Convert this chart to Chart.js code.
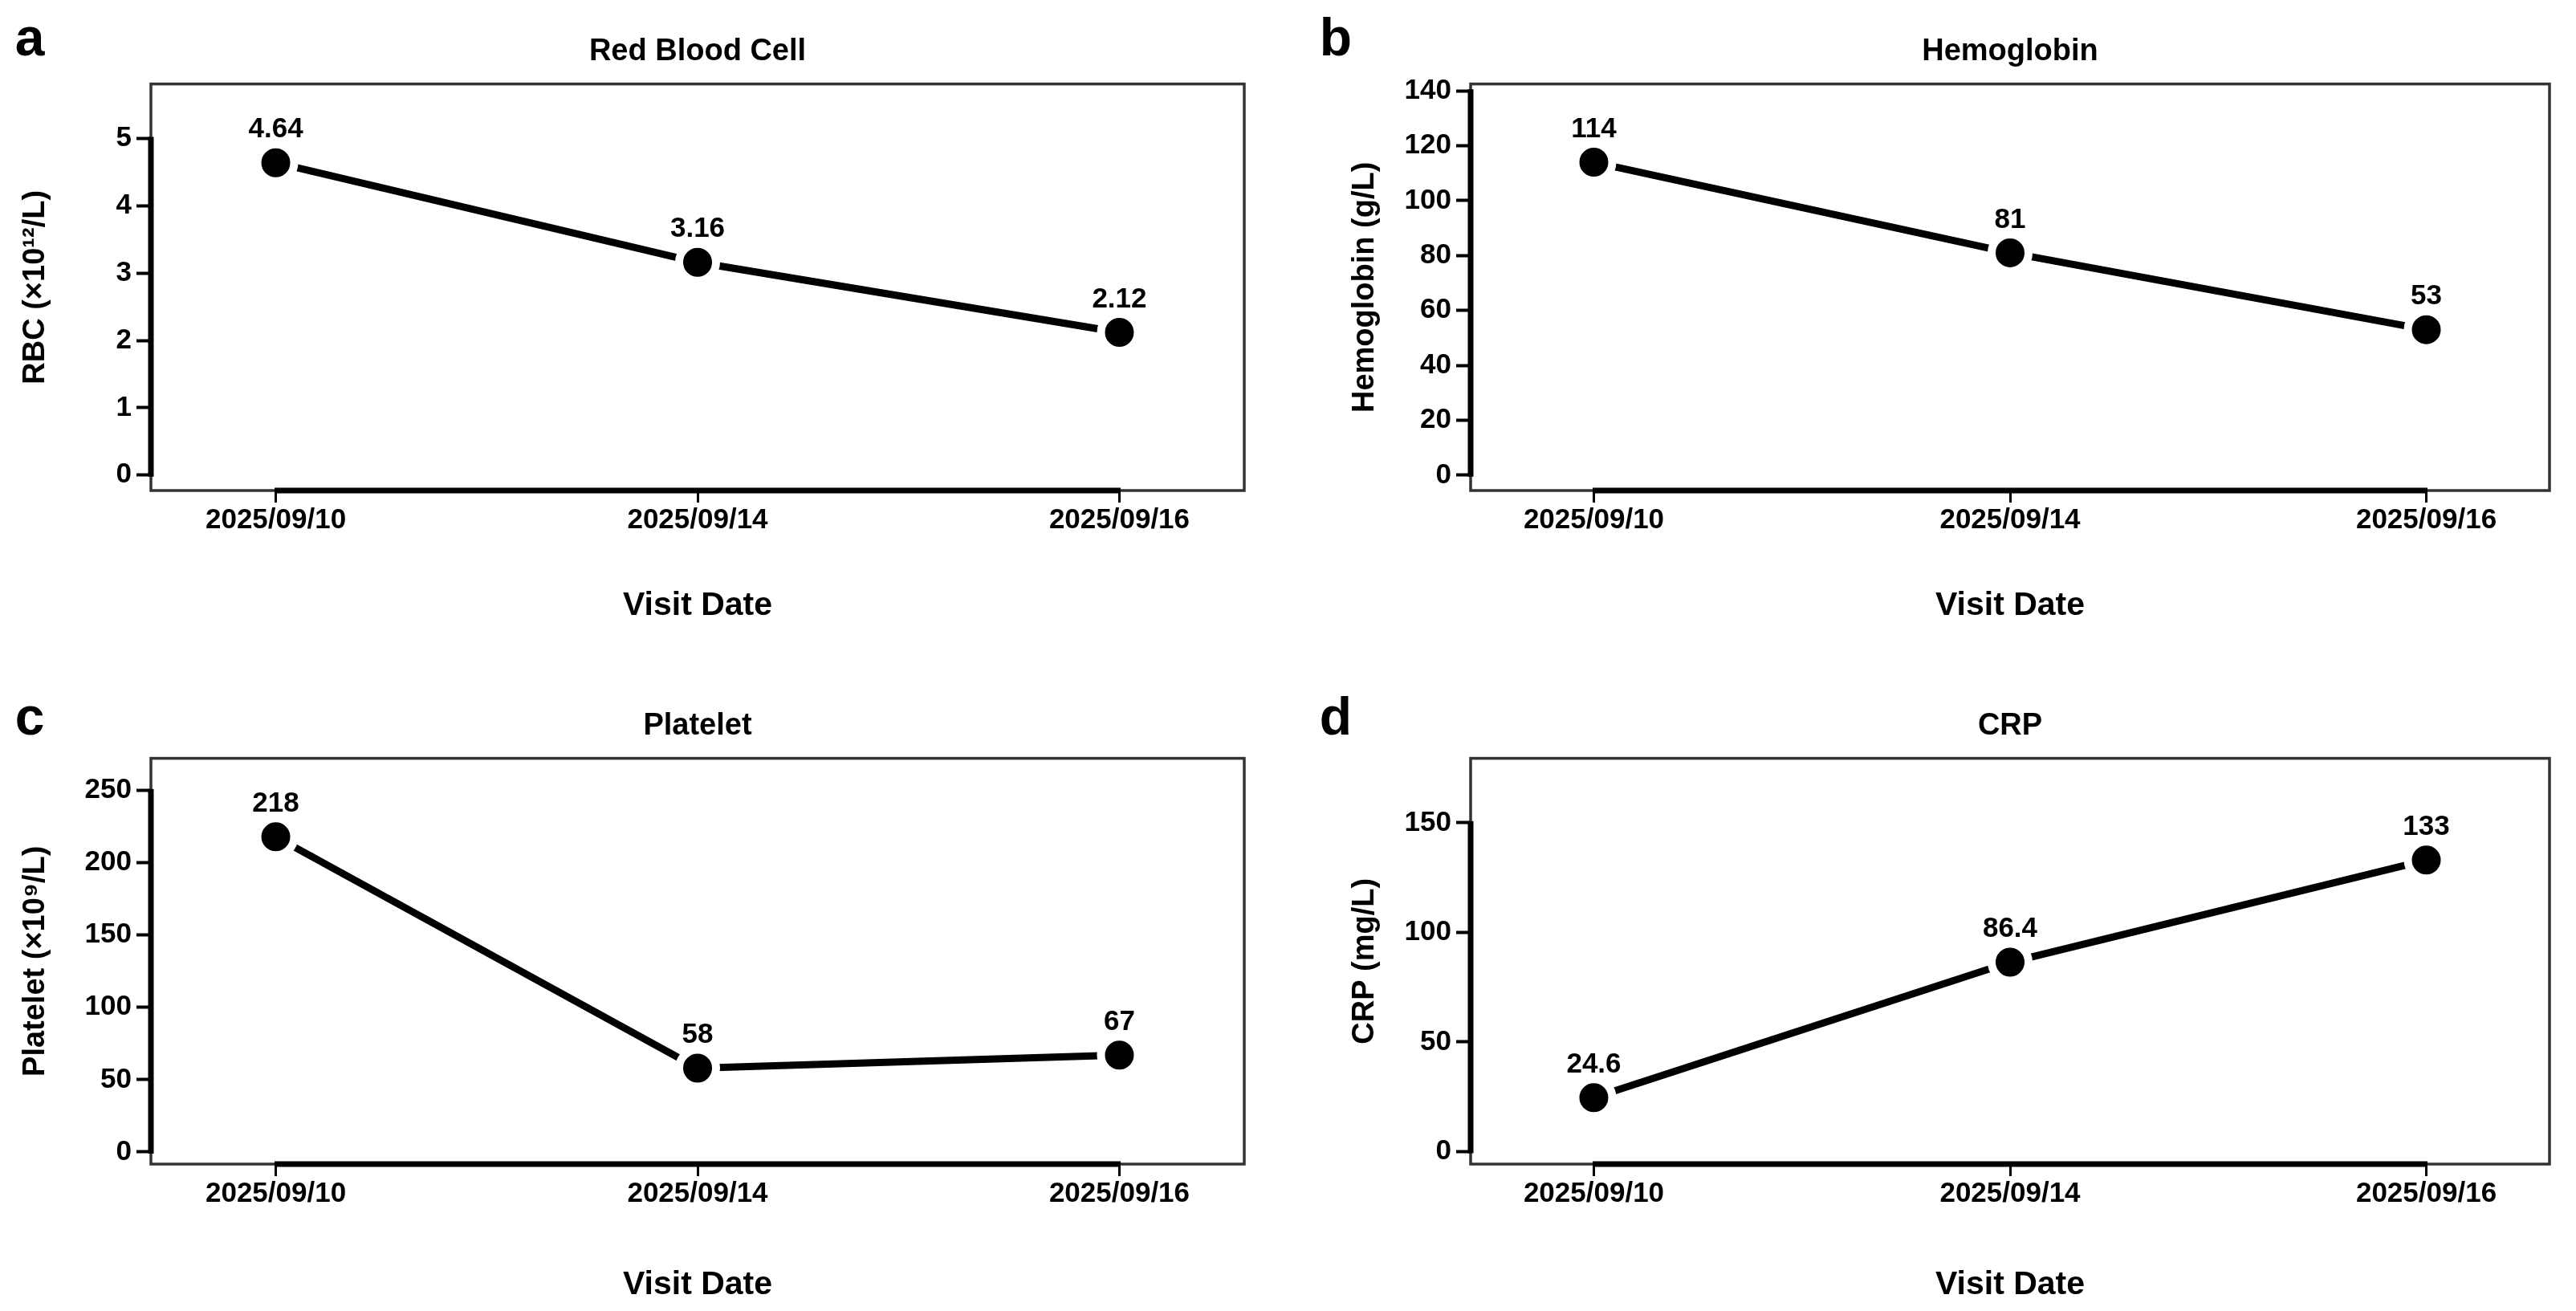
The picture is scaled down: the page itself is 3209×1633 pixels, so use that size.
<!DOCTYPE html>
<html>
<head>
<meta charset="utf-8">
<script src="https://cdn.jsdelivr.net/npm/chart.js@4.4.1/dist/chart.umd.min.js"></script>
<style>
  body { margin: 0; background: #fff; width: 3209px; height: 1633px; position: relative; overflow: hidden; }
  canvas { position: absolute; }
  .tag { position: absolute; font: bold 66px "Liberation Sans", Arial, sans-serif; color: #000; transform: translate(-50%, -50%); line-height: 1; }
</style>
</head>
<body>
<div class="tag" style="left:37px; top:46px;">a</div>
<div class="tag" style="left:1664px; top:46px;">b</div>
<div class="tag" style="left:37px; top:892px;">c</div>
<div class="tag" style="left:1664px; top:892px;">d</div>

<canvas id="chartA" width="1604" height="816" style="left:0; top:0;"></canvas>
<canvas id="chartB" width="1605" height="816" style="left:1604px; top:0;"></canvas>
<canvas id="chartC" width="1604" height="817" style="left:0; top:816px;"></canvas>
<canvas id="chartD" width="1605" height="817" style="left:1604px; top:816px;"></canvas>

<script>
// data
const visitDates = ["2025/09/10", "2025/09/14", "2025/09/16"];
const rbcValues = [4.64, 3.16, 2.12];
const hgbValues = [114, 81, 53];
const pltValues = [218, 58, 67];
const crpValues = [24.6, 86.4, 133];

const rbcTicks = [0, 1, 2, 3, 4, 5];
const hgbTicks = [0, 20, 40, 60, 80, 100, 120, 140];
const pltTicks = [0, 50, 100, 150, 200, 250];
const crpTicks = [0, 50, 100, 150];

Chart.defaults.font.family = '"Liberation Sans", Arial, sans-serif';
Chart.defaults.font.weight = 'bold';
Chart.defaults.color = '#000';

// box around the plot + thick axis segments between first and last tick
const framePlugin = {
  id: 'frame',
  beforeDatasetsDraw(chart) {
    const { ctx, chartArea: a, scales } = chart;
    const yt = chart.options.scales.y.myTicks;
    ctx.save();
    ctx.strokeStyle = '#333';
    ctx.lineWidth = 3.5;
    ctx.strokeRect(a.left, a.top, a.right - a.left, a.bottom - a.top);
    ctx.strokeStyle = '#000';
    ctx.lineWidth = 7;
    ctx.beginPath();
    ctx.moveTo(a.left, scales.y.getPixelForValue(yt[0]) + 2);
    ctx.lineTo(a.left, scales.y.getPixelForValue(yt[yt.length - 1]) - 2);
    ctx.moveTo(scales.x.getPixelForValue(0) - 1.5, a.bottom);
    ctx.lineTo(scales.x.getPixelForValue(visitDates.length - 1) + 1.5, a.bottom);
    ctx.stroke();
    ctx.restore();
  }
};

// value labels above the points
const labelPlugin = {
  id: 'pointLabels',
  afterDatasetsDraw(chart) {
    const { ctx } = chart;
    const meta = chart.getDatasetMeta(0);
    ctx.save();
    ctx.font = 'bold 35px "Liberation Sans", Arial, sans-serif';
    ctx.fillStyle = '#000';
    ctx.textAlign = 'center';
    ctx.textBaseline = 'middle';
    meta.data.forEach((pt, i) => {
      ctx.fillText(String(chart.data.datasets[0].data[i].y), pt.x, pt.y - 41);
    });
    ctx.restore();
  }
};

function makePanel(id, cfg) {
  const pts = cfg.values.map((v, i) => ({ x: i, y: v }));
  return new Chart(document.getElementById(id), {
    type: 'line',
    data: {
      datasets: [{
        data: pts,
        borderColor: '#000',
        borderWidth: 9,
        tension: 0,
        pointRadius: 23,
        pointHoverRadius: 23,
        pointBackgroundColor: '#000',
        pointBorderColor: '#fff',
        pointBorderWidth: 10
      }]
    },
    options: {
      responsive: false,
      animation: false,
      devicePixelRatio: 1,
      events: [],
      layout: { padding: { top: 0, left: 0, right: cfg.rightPad, bottom: 0 } },
      plugins: {
        legend: { display: false },
        tooltip: { enabled: false },
        title: {
          display: true,
          text: cfg.title,
          fullSize: false,
          font: { size: 38, weight: 'bold' },
          color: '#000',
          padding: { top: cfg.titleTop + 2.4, bottom: 16.8 }
        }
      },
      scales: {
        x: {
          type: 'linear',
          min: -0.296,
          max: visitDates.length - 1 + 0.296,
          afterBuildTicks: (s) => { s.ticks = visitDates.map((d, i) => ({ value: i })); },
          afterFit: (s) => { s.height = cfg.xHeight; },
          ticks: {
            callback: (v) => visitDates[v],
            font: { size: 35, weight: 'bold' },
            color: '#000',
            padding: 1,
            maxRotation: 0
          },
          grid: { drawOnChartArea: false, drawTicks: true, tickLength: 15, tickWidth: 3, tickColor: '#000' },
          border: { display: false },
          title: {
            display: true,
            text: 'Visit Date',
            font: { size: 41, weight: 'bold' },
            color: '#000',
            padding: { top: 0, bottom: cfg.xTitlePad }
          }
        },
        y: {
          min: cfg.yMin,
          max: cfg.yMax,
          myTicks: cfg.ticks,
          afterBuildTicks: (s) => { s.ticks = cfg.ticks.map((v) => ({ value: v })); },
          afterFit: (s) => { s.width = cfg.yWidth; },
          ticks: { font: { size: 35, weight: 'bold' }, color: '#000', padding: 6 },
          grid: { drawOnChartArea: false, drawTicks: true, tickLength: 18, tickWidth: 4, tickColor: '#000' },
          border: { display: false },
          title: {
            display: true,
            text: cfg.yTitle,
            font: { size: 38, weight: 'bold' },
            color: '#000',
            padding: { top: cfg.yTitlePad, bottom: 0 }
          }
        }
      }
    },
    plugins: [framePlugin, labelPlugin]
  });
}

makePanel('chartA', {
  values: rbcValues, ticks: rbcTicks, yMin: -0.23, yMax: 5.81,
  title: 'Red Blood Cell', yTitle: 'RBC (×10¹²/L)',
  yWidth: 188, yTitlePad: 22, rightPad: 54, titleTop: 39.8, xHeight: 205, xTitlePad: 37
});
makePanel('chartB', {
  values: hgbValues, ticks: hgbTicks, yMin: -5.6, yMax: 142.5,
  title: 'Hemoglobin', yTitle: 'Hemoglobin (g/L)',
  yWidth: 228, yTitlePad: 74, rightPad: 12, titleTop: 39.8, xHeight: 205, xTitlePad: 37
});
makePanel('chartC', {
  values: pltValues, ticks: pltTicks, yMin: -8.4, yMax: 272.3,
  title: 'Platelet', yTitle: 'Platelet (×10⁹/L)',
  yWidth: 188, yTitlePad: 22, rightPad: 54, titleTop: 63.8, xHeight: 183, xTitlePad: 8
});
makePanel('chartD', {
  values: crpValues, ticks: crpTicks, yMin: -5.7, yMax: 179.4,
  title: 'CRP', yTitle: 'CRP (mg/L)',
  yWidth: 228, yTitlePad: 74, rightPad: 12, titleTop: 63.8, xHeight: 183, xTitlePad: 8
});
</script>
</body>
</html>
